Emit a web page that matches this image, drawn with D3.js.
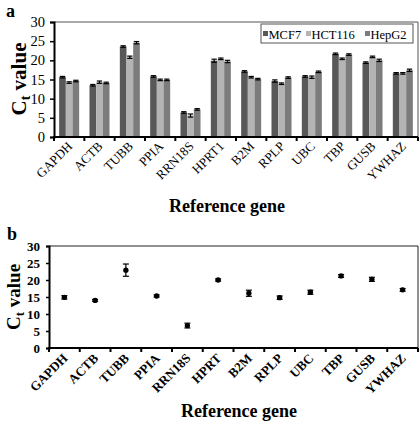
<!DOCTYPE html>
<html><head><meta charset="utf-8">
<script src="https://cdn.jsdelivr.net/npm/d3@7"></script>
<style>
html,body{margin:0;padding:0;background:#fff;}
svg text{font-family:"Liberation Serif","Times New Roman",serif;}
</style></head>
<body>
<svg id="chart" width="420" height="422"></svg>
<script>
// ---- data ----
const genesA = ["GAPDH","ACTB","TUBB","PPIA","RRN18S","HPRT1","B2M","RPLP","UBC","TBP","GUSB","YWHAZ"];
const genesB = ["GAPDH","ACTB","TUBB","PPIA","RRN18S","HPRT","B2M","RPLP","UBC","TBP","GUSB","YWHAZ"];
const seriesNames = ["MCF7","HCT116","HepG2"];
const mcf7   = [15.6,13.5,23.6,15.8,6.4,19.9,17.1,14.6,15.8,21.7,19.4,16.6];
const hct116 = [14.2,14.3,20.8,14.9,5.6,20.4,15.6,13.9,15.6,20.4,20.9,16.6];
const hepg2  = [14.6,14.1,24.6,14.9,7.2,19.7,15.1,15.5,17.0,21.5,20.0,17.4];
const mcf7Err   = [0.2,0.2,0.2,0.2,0.2,0.4,0.2,0.3,0.2,0.2,0.2,0.2];
const hct116Err = [0.2,0.3,0.3,0.2,0.4,0.2,0.2,0.2,0.3,0.2,0.2,0.2];
const hepg2Err  = [0.2,0.2,0.3,0.2,0.2,0.3,0.2,0.2,0.2,0.2,0.3,0.3];
const meanCt  = [14.9,14.0,22.9,15.3,6.6,20.0,16.1,14.8,16.4,21.2,20.2,17.1];
const meanErr = [0.5,0.3,1.8,0.3,0.7,0.3,0.9,0.5,0.6,0.4,0.6,0.4];
const yTicks = [0,5,10,15,20,25,30];
const colors = ["#585858","#b4b4b4","#7c7c7c"];

const svg = d3.select("#chart");

// ================= Panel a =================
const A = {left:54, right:418, top:22, bottom:137};
const xa = d3.scaleBand().domain(genesA).range([A.left, A.right]).paddingInner(0.34).paddingOuter(0.17);
const xs = d3.scaleBand().domain(seriesNames).range([0, xa.bandwidth()]);
const ya = d3.scaleLinear().domain([0,30]).range([A.bottom, A.top]);
const seriesVals = [mcf7, hct116, hepg2];
const seriesErr = [mcf7Err, hct116Err, hepg2Err];

const ga = svg.append("g");
ga.append("line").attr("x1",A.left).attr("x2",A.right).attr("y1",A.top).attr("y2",A.top).attr("stroke","#555").attr("stroke-width",1);
ga.append("line").attr("x1",A.right).attr("x2",A.right).attr("y1",A.top).attr("y2",A.bottom).attr("stroke","#555").attr("stroke-width",1);

seriesNames.forEach((s, si) => {
  const data = genesA.map((g,i)=>({g, v:seriesVals[si][i], e:seriesErr[si][i]}));
  ga.append("g").selectAll("rect").data(data).join("rect")
    .attr("x", d => xa(d.g) + xs(s))
    .attr("width", xs.bandwidth())
    .attr("y", d => ya(d.v))
    .attr("height", d => ya(0) - ya(d.v))
    .attr("fill", colors[si]);
  const eg = ga.append("g").attr("stroke","#000").attr("stroke-width",1.2);
  data.forEach(d => {
    const cx = xa(d.g) + xs(s) + xs.bandwidth()/2;
    const hw = xs.bandwidth()*0.4;
    eg.append("line").attr("x1",cx).attr("x2",cx).attr("y1",ya(d.v+d.e)).attr("y2",ya(d.v-d.e));
    eg.append("line").attr("x1",cx-hw).attr("x2",cx+hw).attr("y1",ya(d.v+d.e)).attr("y2",ya(d.v+d.e));
    eg.append("line").attr("x1",cx-hw).attr("x2",cx+hw).attr("y1",ya(d.v-d.e)).attr("y2",ya(d.v-d.e));
  });
});

const yAxA = ga.append("g").attr("transform",`translate(${A.left},0)`)
  .call(d3.axisLeft(ya).tickValues(yTicks).tickSize(4).tickPadding(5));
yAxA.select(".domain").attr("stroke","#000").attr("stroke-width",2);
yAxA.selectAll(".tick line").attr("stroke","#000").attr("stroke-width",1.5);
yAxA.selectAll(".tick text").attr("font-size",14.5).attr("font-family","Liberation Serif").attr("fill","#000");

const stepA = xa.step();
const bA = d3.range(genesA.length+1).map(i => A.left + i*stepA);
ga.append("line").attr("x1",A.left-1).attr("x2",A.right).attr("y1",A.bottom).attr("y2",A.bottom).attr("stroke","#000").attr("stroke-width",2);
ga.append("g").selectAll("line").data(bA).join("line")
  .attr("x1",d=>d).attr("x2",d=>d).attr("y1",A.bottom).attr("y2",A.bottom+4)
  .attr("stroke","#000").attr("stroke-width",2);
ga.append("g").selectAll("text").data(genesA).join("text")
  .attr("transform", d => `translate(${xa(d)+xa.bandwidth()/2+4},${A.bottom+10}) rotate(-45)`)
  .attr("text-anchor","end").attr("font-size",13).attr("fill","#000").text(d=>d);

const ytA = ga.append("text").attr("transform",`translate(26,79) rotate(-90)`)
  .attr("text-anchor","middle").attr("font-size",21).attr("font-weight","bold");
ytA.append("tspan").text("C");
ytA.append("tspan").attr("font-size",14).attr("dy",4).text("t");
ytA.append("tspan").attr("dy",-4).text(" value");
ga.append("text").attr("x",227).attr("y",212).attr("text-anchor","middle").attr("font-size",18).attr("font-weight","bold").text("Reference gene");
ga.append("text").attr("x",6).attr("y",17).attr("font-size",18).attr("font-weight","bold").text("a");

const lg = ga.append("g");
lg.append("rect").attr("x",261).attr("y",24).attr("width",152).attr("height",19).attr("fill","#fff").attr("stroke","#555").attr("stroke-width",1);
const legX = [263, 306, 365];
seriesNames.forEach((s,i)=>{
  lg.append("rect").attr("x",legX[i]).attr("y",31).attr("width",5).attr("height",5).attr("fill",colors[i]);
  lg.append("text").attr("x",legX[i]+5.5).attr("y",38.5).attr("font-size",12.5).attr("fill","#000").text(s);
});

// ================= Panel b =================
const B = {left:49, right:418, top:246, bottom:348};
const xb = d3.scaleBand().domain(genesB).range([B.left, B.right]);
const yb = d3.scaleLinear().domain([0,30]).range([B.bottom, B.top]);
const gb = svg.append("g");
gb.append("line").attr("x1",B.left).attr("x2",B.right).attr("y1",B.top).attr("y2",B.top).attr("stroke","#222").attr("stroke-width",1);
gb.append("line").attr("x1",B.right).attr("x2",B.right).attr("y1",B.top).attr("y2",B.bottom).attr("stroke","#222").attr("stroke-width",1);

const yAxB = gb.append("g").attr("transform",`translate(${B.left},0)`)
  .call(d3.axisLeft(yb).tickValues(yTicks).tickSize(3).tickPadding(6));
yAxB.select(".domain").attr("stroke","#000").attr("stroke-width",2);
yAxB.selectAll(".tick line").attr("stroke","#000").attr("stroke-width",1.5);
yAxB.selectAll(".tick text").attr("font-size",13).attr("font-weight","bold").attr("font-family","Liberation Serif").attr("fill","#000");

const bB = d3.range(genesB.length+1).map(i => B.left + i*xb.step());
gb.append("line").attr("x1",B.left-1).attr("x2",B.right).attr("y1",B.bottom).attr("y2",B.bottom).attr("stroke","#000").attr("stroke-width",2);
gb.append("g").selectAll("line").data(bB).join("line")
  .attr("x1",d=>d).attr("x2",d=>d).attr("y1",B.bottom).attr("y2",B.bottom+4)
  .attr("stroke","#000").attr("stroke-width",2);
gb.append("g").selectAll("text").data(genesB).join("text")
  .attr("transform", d => `translate(${xb(d)+xb.bandwidth()/2+4},${B.bottom+11}) rotate(-45)`)
  .attr("text-anchor","end").attr("font-size",13).attr("font-weight","bold").attr("fill","#000").text(d=>d);

const pts = genesB.map((g,i)=>({g, v:meanCt[i], e:meanErr[i]}));
const eb = gb.append("g").attr("stroke","#000").attr("stroke-width",1.2);
pts.forEach(d=>{
  const cx = xb(d.g)+xb.bandwidth()/2;
  eb.append("line").attr("x1",cx).attr("x2",cx).attr("y1",yb(d.v+d.e)).attr("y2",yb(d.v-d.e));
  eb.append("line").attr("x1",cx-3).attr("x2",cx+3).attr("y1",yb(d.v+d.e)).attr("y2",yb(d.v+d.e));
  eb.append("line").attr("x1",cx-3).attr("x2",cx+3).attr("y1",yb(d.v-d.e)).attr("y2",yb(d.v-d.e));
});
gb.append("g").selectAll("path").data(pts).join("path")
  .attr("transform", d=>`translate(${xb(d.g)+xb.bandwidth()/2},${yb(d.v)})`)
  .attr("d", d3.symbol().type(d3.symbolCircle).size(22))
  .attr("fill","#000");

const ytB = gb.append("text").attr("transform",`translate(20,297) rotate(-90)`)
  .attr("text-anchor","middle").attr("font-size",19).attr("font-weight","bold");
ytB.append("tspan").text("C");
ytB.append("tspan").attr("font-size",13).attr("dy",4).text("t");
ytB.append("tspan").attr("dy",-4).text(" value");
gb.append("text").attr("x",239).attr("y",417).attr("text-anchor","middle").attr("font-size",18).attr("font-weight","bold").text("Reference gene");
gb.append("text").attr("x",7).attr("y",240).attr("font-size",18).attr("font-weight","bold").text("b");
</script>
</body></html>
